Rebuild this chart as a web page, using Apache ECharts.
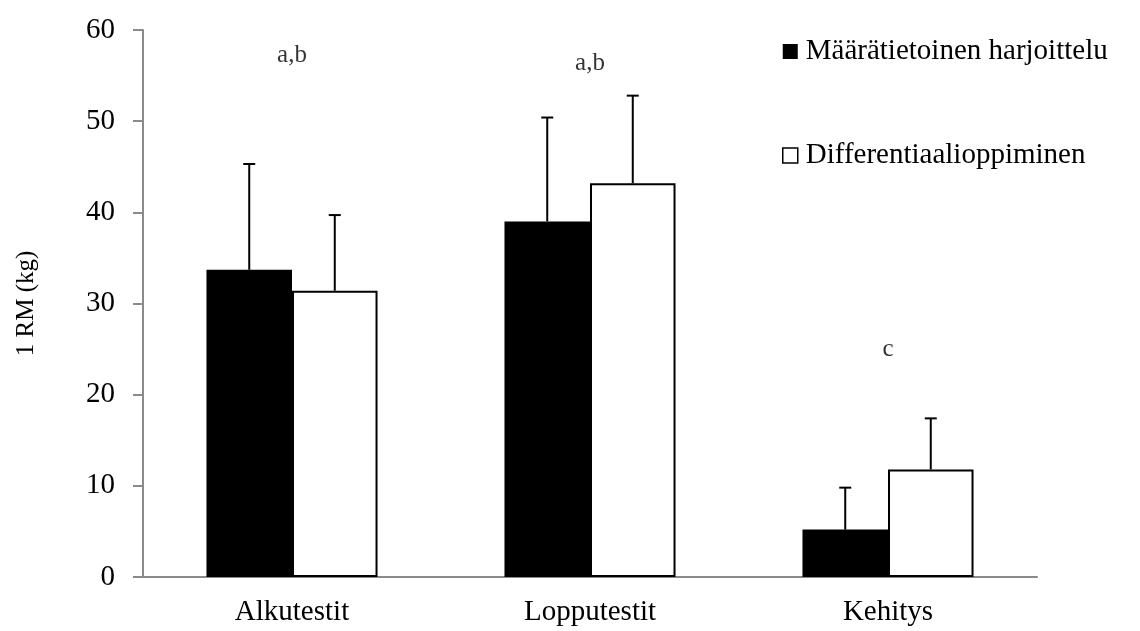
<!DOCTYPE html>
<html>
<head>
<meta charset="utf-8">
<script src="https://cdn.jsdelivr.net/npm/echarts@6/dist/echarts.min.js"></script>
<style>
html,body{margin:0;padding:0;background:#fff;}
#chart{width:1140px;height:631px;}
</style>
</head>
<body>
<div id="chart"></div>
<script>
// ---- data ----
var categories = ['Alkutestit', 'Lopputestit', 'Kehitys'];
var seriesNames = ['Määrätietoinen harjoittelu', 'Differentiaalioppiminen'];
var meansA = [33.7, 39.0, 5.2];
var sdA = [11.6, 11.4, 4.6];
var meansB = [31.4, 43.2, 11.8];
var sdB = [8.3, 9.6, 5.6];
var annotationText = ['a,b', 'a,b', 'c'];
var annotationY = [57.2, 56.3, 25.0];
var yTicks = [0, 10, 20, 30, 40, 50, 60];

// ---- chart ----
var FONT = "'Liberation Serif', 'Times New Roman', serif";
var BAR_FRAC = 0.287;
var chart = echarts.init(document.getElementById('chart'));

function errRender(side) {
  return function (params, api) {
    var i = api.value(0);
    var base = api.coord([i, api.value(1)]);
    var top = api.coord([i, api.value(1) + api.value(2)]);
    var bw = api.size([1, 0])[0] * BAR_FRAC;
    var x = base[0] + side * bw / 2;
    return {
      type: 'group',
      children: [
        {type: 'line', shape: {x1: x, y1: base[1], x2: x, y2: top[1]}, style: {stroke: '#000', lineWidth: 2}},
        {type: 'line', shape: {x1: x - 6, y1: top[1], x2: x + 6, y2: top[1]}, style: {stroke: '#000', lineWidth: 2}}
      ]
    };
  };
}

function errData(means, sds) {
  return means.map(function (m, i) { return [i, m, sds[i]]; });
}

var option = {
  backgroundColor: '#fff',
  animation: false,
  grid: {left: 143, right: 103, top: 30, bottom: 54, containLabel: false},
  legend: {
    orient: 'vertical',
    left: 782,
    top: 37,
    padding: 0,
    itemGap: 75,
    itemWidth: 15,
    itemHeight: 15,
    textStyle: {fontFamily: FONT, fontSize: 29, color: '#000', padding: [0, 0, 0, 3]},
    data: [
      {name: seriesNames[0], icon: 'rect', itemStyle: {color: '#000', borderWidth: 0}},
      {name: seriesNames[1], icon: 'rect', itemStyle: {color: '#fff', borderColor: '#000', borderWidth: 1.5}}
    ]
  },
  xAxis: {
    type: 'category',
    data: categories,
    axisLine: {lineStyle: {color: '#8a8a8a', width: 2}},
    axisTick: {show: false},
    axisLabel: {fontFamily: FONT, fontSize: 29, color: '#000', margin: 21}
  },
  yAxis: {
    type: 'value',
    min: yTicks[0],
    max: yTicks[yTicks.length - 1],
    interval: 10,
    name: '1 RM (kg)',
    nameLocation: 'middle',
    nameGap: 104,
    nameTextStyle: {fontFamily: FONT, fontSize: 25, color: '#000'},
    axisLine: {show: true, lineStyle: {color: '#8a8a8a', width: 2}},
    axisTick: {show: true, length: 10, lineStyle: {color: '#8a8a8a', width: 2}},
    splitLine: {show: false},
    axisLabel: {fontFamily: FONT, fontSize: 29, color: '#000', margin: 28, padding: [14, 0, 0, 0]}
  },
  series: [
    {
      name: seriesNames[0],
      type: 'bar',
      data: meansA,
      barWidth: (BAR_FRAC * 100) + '%',
      barGap: '0%',
      itemStyle: {color: '#000', borderWidth: 0}
    },
    {
      name: seriesNames[1],
      type: 'bar',
      data: meansB,
      barWidth: (BAR_FRAC * 100) + '%',
      barGap: '0%',
      itemStyle: {color: '#fff', borderColor: '#000', borderWidth: 2}
    },
    {
      type: 'custom',
      renderItem: errRender(-1),
      data: errData(meansA, sdA),
      encode: {x: 0, y: 1},
      z: 5,
      silent: true
    },
    {
      type: 'custom',
      renderItem: errRender(1),
      data: errData(meansB, sdB),
      encode: {x: 0, y: 1},
      z: 5,
      silent: true
    },
    {
      type: 'scatter',
      data: annotationY.map(function (v, i) { return [i, v]; }),
      symbolSize: 1,
      itemStyle: {color: 'rgba(255,255,255,0)'},
      silent: true,
      label: {
        show: true,
        position: 'inside',
        fontFamily: FONT,
        fontSize: 25,
        color: '#000',
        textBorderWidth: 0,
        textBorderColor: 'transparent',
        formatter: function (p) { return annotationText[p.dataIndex]; }
      },
      z: 6
    }
  ]
};
chart.setOption(option);
</script>
</body>
</html>
